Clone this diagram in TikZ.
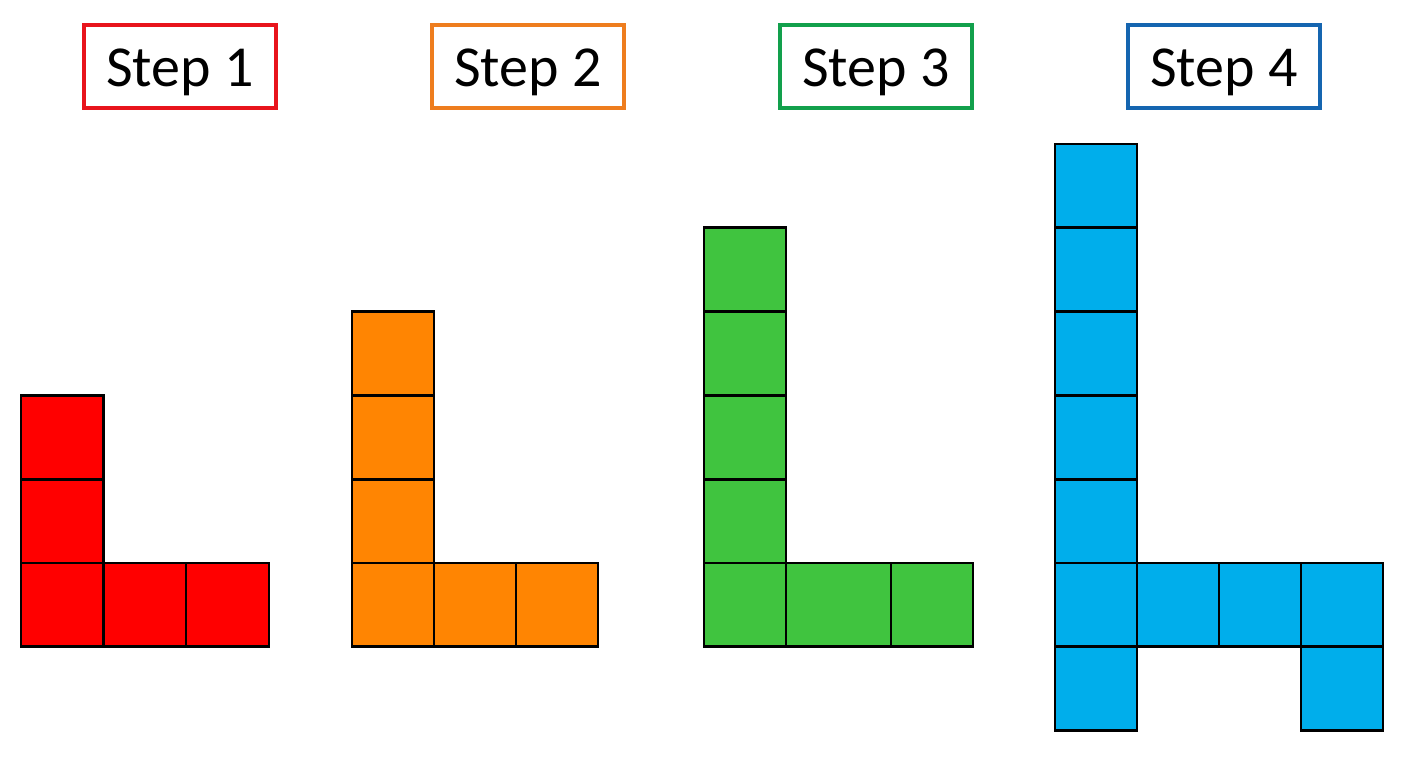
\documentclass[tikz,border=0pt]{standalone}
\usepackage{fontspec}
\setmainfont{Carlito}
\definecolor{cRedB}{HTML}{E8141C}
\definecolor{cOrgB}{HTML}{EE7D1E}
\definecolor{cGrnB}{HTML}{12A04C}
\definecolor{cBluB}{HTML}{1565B0}
\definecolor{cRed}{HTML}{FF0000}
\definecolor{cOrg}{HTML}{FF8502}
\definecolor{cGrn}{HTML}{40C43F}
\definecolor{cBlu}{HTML}{00AEEB}
\begin{document}
\begin{tikzpicture}[x=1pt,y=-1pt,
  lbl/.style={draw=#1, line width=3.5pt, fill=white, minimum width=192pt, minimum height=83pt,
    inner sep=0pt, font=\fontsize{58}{64}\selectfont, text height=40pt, text depth=1pt},
  sq/.style={fill=#1, draw=black, line width=2.8pt, line join=miter}]
\fill[white] (0,0) rectangle (1408,768);
\useasboundingbox (0,0) rectangle (1408,768);
% labels
\node[lbl=cRedB] (s1) at (180,66.5) {Step 1};
\node[lbl=cOrgB] (s2) at (528,66.5) {Step 2};
\node[lbl=cGrnB] (s3) at (876,66.5) {Step 3};
\node[lbl=cBluB] (s4) at (1224,66.5) {Step 4};
% row positions
\def\ra{144}\def\rb{227.8}\def\rc{311.6}\def\rd{395.4}\def\re{479.2}\def\rf{563}\def\rg{646.8}\def\rh{730.6}
% Step 1 (red)
\foreach \ya/\yb in {\rd/\re,\re/\rf,\rf/\rg} \draw[sq=cRed] (21,\ya) rectangle (103.5,\yb);
\foreach \xa/\xb in {103.5/186,186/269} \draw[sq=cRed] (\xa,\rf) rectangle (\xb,\rg);
% Step 2 (orange)
\foreach \ya/\yb in {\rc/\rd,\rd/\re,\re/\rf,\rf/\rg} \draw[sq=cOrg] (352,\ya) rectangle (434,\yb);
\foreach \xa/\xb in {434/516,516/598} \draw[sq=cOrg] (\xa,\rf) rectangle (\xb,\rg);
% Step 3 (green)
\foreach \ya/\yb in {\rb/\rc,\rc/\rd,\rd/\re,\re/\rf,\rf/\rg} \draw[sq=cGrn] (704,\ya) rectangle (786,\yb);
\foreach \xa/\xb in {786/891,891/973} \draw[sq=cGrn] (\xa,\rf) rectangle (\xb,\rg);
% Step 4 (blue)
\foreach \ya/\yb in {\ra/\rb,\rb/\rc,\rc/\rd,\rd/\re,\re/\rf,\rf/\rg,\rg/\rh} \draw[sq=cBlu] (1055,\ya) rectangle (1137,\yb);
\foreach \xa/\xb in {1137/1219,1219/1301,1301/1383} \draw[sq=cBlu] (\xa,\rf) rectangle (\xb,\rg);
\draw[sq=cBlu] (1301,\rg) rectangle (1383,\rh);
\end{tikzpicture}
\end{document}
